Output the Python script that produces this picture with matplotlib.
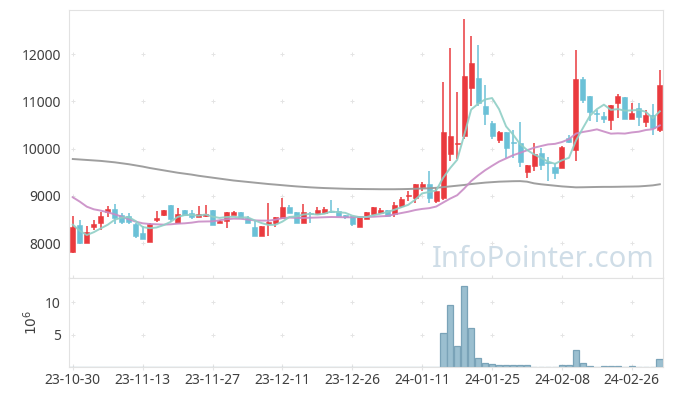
import numpy as np
import pandas as pd
import matplotlib
matplotlib.use('Agg')
import matplotlib.pyplot as plt

plt.rcParams['font.family'] = ['Noto Sans', 'DejaVu Sans']

# daily prices, 85 trading days from 23-10-30
opens = [7800, 8383, 8008, 8348, 8432, 8665, 8722, 8588, 8574, 8411,
         8220, 8030, 8489, 8595, 8807, 8432, 8701, 8637, 8559, 8581,
         8701, 8432, 8475, 8602, 8651, 8524, 8334, 8157, 8404, 8432,
         8538, 8771, 8651, 8432, 8644, 8609, 8630, 8673, 8687, 8588,
         8574, 8334, 8510, 8616, 8637, 8694, 8616, 8786, 9000, 8948,
         9195, 9245, 8892, 8962, 9888, 10106, 10276, 11293, 11505, 10905,
         10551, 10184, 10361, 10127, 10127, 9513, 9640, 9916, 9710, 9619,
         9598, 10219, 9979, 11477, 11116, 10742, 10700, 10608, 10975, 11095,
         10622, 10855, 10573, 10714, 10396]
highs = [8574, 8489, 8360, 8489, 8665, 8785, 8828, 8630, 8630, 8420,
         8370, 8420, 8680, 8710, 8810, 8736, 8701, 8700, 8785, 8807,
         8701, 8480, 8660, 8687, 8660, 8574, 8489, 8362, 8842, 8545,
         8955, 8807, 8651, 8828, 8650, 8771, 8771, 8913, 8736, 8588,
         8574, 8574, 8666, 8757, 8750, 8694, 8877, 8969, 9104, 9260,
         9287, 9527, 9160, 11406, 12126, 11194, 12748, 12388, 12197, 11349,
         10580, 10370, 10361, 10396, 10559, 9660, 10127, 10007, 9831, 9690,
         10064, 10290, 12091, 11512, 11116, 10820, 10784, 10926, 11159, 11095,
         10975, 10975, 10820, 10940, 11667]
lows = [7790, 7990, 8000, 8277, 8277, 8559, 8400, 8404, 8404, 8100,
        8080, 8030, 8454, 8580, 8440, 8432, 8602, 8500, 8559, 8560,
        8390, 8420, 8312, 8600, 8520, 8432, 8143, 8150, 8150, 8348,
        8538, 8630, 8418, 8432, 8432, 8609, 8630, 8630, 8574, 8503,
        8362, 8334, 8510, 8600, 8609, 8581, 8546, 8736, 8892, 8842,
        9104, 8842, 8842, 8913, 9746, 9781, 10205, 10905, 10900, 10502,
        10198, 10113, 9810, 9796, 9619, 9372, 9534, 9548, 9322, 9351,
        9590, 10113, 9746, 10961, 10587, 10573, 10537, 10396, 10657, 10622,
        10622, 10481, 10467, 10290, 10347]
closes = [8333, 8008, 8227, 8411, 8574, 8722, 8538, 8454, 8454, 8157,
          8093, 8411, 8538, 8701, 8503, 8616, 8602, 8559, 8623, 8623,
          8390, 8468, 8651, 8658, 8524, 8432, 8143, 8362, 8454, 8545,
          8771, 8630, 8418, 8658, 8609, 8701, 8722, 8658, 8574, 8545,
          8397, 8574, 8666, 8757, 8708, 8581, 8807, 8934, 9019, 9252,
          9252, 8948, 9104, 10361, 10276, 10127, 11547, 11823, 10975, 10735,
          10276, 10361, 10007, 10113, 9725, 9654, 9888, 9654, 9704, 9492,
          10029, 10149, 11477, 11039, 10784, 10735, 10622, 10926, 11116, 10622,
          10764, 10679, 10714, 10445, 11349]
# volume in millions of shares
volumes = [0.05] * 53 + [5.2, 9.5, 3.2, 12.5, 6.1, 1.5, 0.6, 0.45, 0.3, 0.3,
                         0.3, 0.3, 0.3, 0.08, 0.08, 0.08, 0.08, 0.3, 0.3, 2.6,
                         0.6, 0.25, 0.08, 0.25, 0.25, 0.25, 0.08, 0.25, 0.08, 0.08,
                         0.08, 1.25]

# moving average values before enough history is on screen
ma5_head = [8390, 8260, 8170, 8230]
ma20_head = [8969, 8877, 8771, 8715, 8687, 8651, 8609, 8559, 8503, 8454,
             8418, 8404, 8397, 8390, 8397, 8411, 8418, 8432, 8454]
ma120 = [9780, 9770, 9760, 9750, 9740, 9725, 9710, 9690, 9670, 9645,
         9620, 9590, 9565, 9540, 9515, 9490, 9470, 9450, 9425, 9405,
         9385, 9365, 9345, 9325, 9310, 9295, 9280, 9265, 9250, 9238,
         9225, 9212, 9200, 9190, 9180, 9172, 9165, 9160, 9155, 9150,
         9147, 9145, 9143, 9142, 9140, 9140, 9140, 9142, 9145, 9150,
         9155, 9160, 9170, 9185, 9200, 9215, 9230, 9250, 9265, 9280,
         9290, 9300, 9305, 9310, 9312, 9300, 9265, 9245, 9230, 9215,
         9200, 9190, 9180, 9182, 9185, 9188, 9190, 9190, 9192, 9195,
         9197, 9200, 9210, 9222, 9245]

tick_pos = [0, 10, 20, 30, 40, 50, 60, 70, 80]
tick_labels = ['23-10-30', '23-11-13', '23-11-27', '23-12-11', '23-12-26',
               '24-01-11', '24-01-25', '24-02-08', '24-02-26']
price_ticks = [8000, 9000, 10000, 11000, 12000]
vol_ticks = [5, 10]

df = pd.DataFrame({'open': opens, 'high': highs, 'low': lows,
                   'close': closes, 'volume': volumes})
x = np.arange(len(df))
close_s = df['close']
ma5 = close_s.rolling(5).mean()
ma5.iloc[:4] = ma5_head
ma20 = close_s.rolling(20).mean()
ma20.iloc[:19] = ma20_head

UP = '#ea3a3e'
DOWN = '#6bc1d7'
SPINE = '#e2e2e2'
GRID = '#e4e4e4'
TXT = '#404040'

fig = plt.figure(figsize=(6.73, 3.96), dpi=100)
ax = fig.add_axes([0.103, 0.298, 0.8826, 0.676])
axv = fig.add_axes([0.103, 0.0725, 0.8826, 0.2255])

up = df['close'] >= df['open']
colors = np.where(up, UP, DOWN)
body_lo = np.minimum(df['open'], df['close'])
body_h = np.maximum((df['close'] - df['open']).abs(), 18)

# grid drawn as small crosses at tick intersections
gx, gy = np.meshgrid(tick_pos, price_ticks)
ax.scatter(gx.ravel(), gy.ravel(), marker='+', s=12, c=GRID, lw=0.7, zorder=0)
ax.vlines(x, df['low'], df['high'], colors=colors, lw=1.1, zorder=2)
ax.bar(x, body_h, bottom=body_lo, width=0.72, color=colors, edgecolor=colors,
       lw=0.4, zorder=3)
ax.plot(x, ma120, color='#9a9a9a', lw=1.4, alpha=0.95, zorder=4)
ax.plot(x, ma20, color='#c98cc6', lw=1.4, alpha=0.9, zorder=4)
ax.plot(x, ma5, color='#8fcfc6', lw=1.4, alpha=0.9, zorder=4)

ax.text(0.986, 0.042, 'InfoPointer.com', transform=ax.transAxes, ha='right',
        va='baseline', fontsize=21, color='#cfdde7', zorder=1)

ax.set_xlim(-0.5, 84.5)
ax.set_ylim(7260, 12930)
ax.set_yticks(price_ticks)
ax.set_xticks(tick_pos)
ax.set_xticklabels([])

# volume panel
gx2, gy2 = np.meshgrid(tick_pos, vol_ticks)
axv.scatter(gx2.ravel(), gy2.ravel(), marker='+', s=12, c=GRID, lw=0.7, zorder=0)
axv.bar(x, df['volume'], width=0.95, color='#9bbfd0', edgecolor='#7aa3b8',
        lw=0.9, zorder=2)
axv.set_xlim(-0.5, 84.5)
axv.set_ylim(0, 13.7)
axv.set_yticks(vol_ticks)
axv.set_xticks(tick_pos)
axv.set_xticklabels(tick_labels)
axv.set_ylabel(r'$10^6$', color=TXT, fontsize=10, labelpad=3)

for a in (ax, axv):
    for s in a.spines.values():
        s.set_color(SPINE)
    a.tick_params(axis='y', length=0, pad=6, labelsize=10, labelcolor=TXT)
    a.tick_params(axis='x', direction='inout', length=4, color=GRID,
                  labelsize=10, labelcolor=TXT, pad=2)

fig.savefig('out.png', dpi=100)
